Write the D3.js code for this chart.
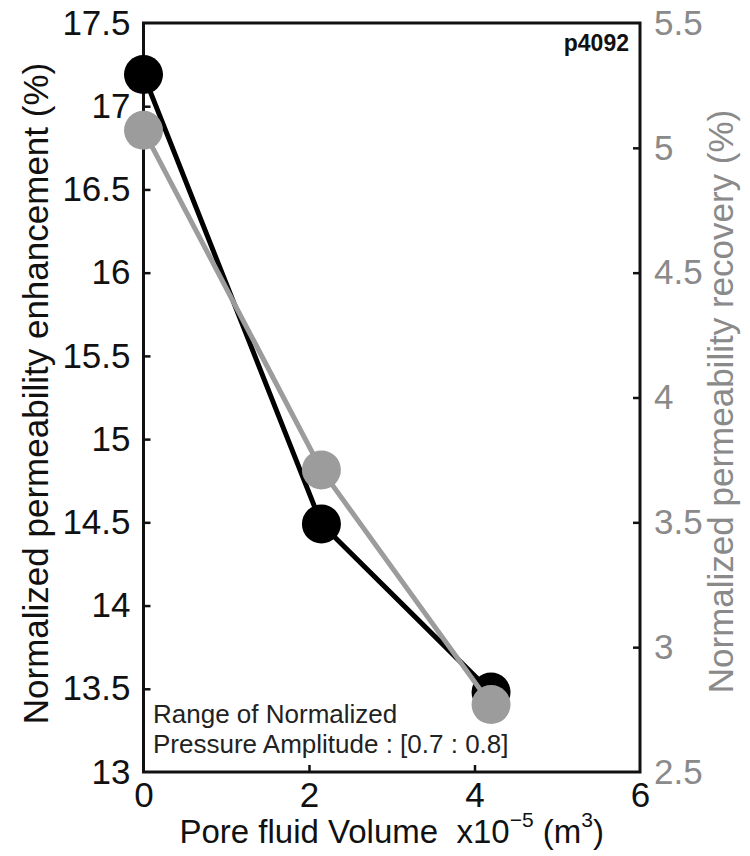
<!DOCTYPE html>
<html>
<head>
<meta charset="utf-8">
<script src="https://cdn.jsdelivr.net/npm/d3@7"></script>
<style>
  html, body { margin: 0; padding: 0; background: #fff; }
  svg { display: block; font-family: "Liberation Sans", Arial, Helvetica, sans-serif; }
</style>
</head>
<body>
<svg id="chart" width="750" height="856"></svg>
<script>
// Pore fluid volume (x10^-5 m^3)
const volume = [0, 2.15, 4.2];
// Normalized permeability enhancement (%) — left axis
const enhancement = [17.19, 14.49, 13.48];
// Normalized permeability recovery (%) — right axis
const recovery = [5.07, 3.71, 2.77];

const xTicks = [0, 2, 4, 6];
const leftTicks = [13, 13.5, 14, 14.5, 15, 15.5, 16, 16.5, 17, 17.5];
const rightTicks = [2.5, 3, 3.5, 4, 4.5, 5, 5.5];

const frame = { left: 143.5, right: 640, top: 23, bottom: 772 };
const black = "#000000";
const grey = "#9c9c9c";
const greyText = "#8a8a8a";

const svg = d3.select("#chart");

const x = d3.scaleLinear().domain([0, 6]).range([frame.left, frame.right]);
const yL = d3.scaleLinear().domain([13, 17.5]).range([frame.bottom, frame.top]);
const yR = d3.scaleLinear().domain([2.5, 5.5]).range([frame.bottom, frame.top]);

const tickFmt = d => String(d);

// Bottom axis (ticks point inward)
const gx = svg.append("g")
  .attr("transform", `translate(0,${frame.bottom})`)
  .call(d3.axisBottom(x).tickValues(xTicks).tickFormat(tickFmt)
    .tickSizeInner(-7).tickSizeOuter(0).tickPadding(10));

// Left axis
const gl = svg.append("g")
  .attr("transform", `translate(${frame.left},0)`)
  .call(d3.axisLeft(yL).tickValues(leftTicks).tickFormat(tickFmt)
    .tickSizeInner(-7).tickSizeOuter(0).tickPadding(13));

// Right axis
const gr = svg.append("g")
  .attr("transform", `translate(${frame.right},0)`)
  .call(d3.axisRight(yR).tickValues(rightTicks).tickFormat(tickFmt)
    .tickSizeInner(-7).tickSizeOuter(0).tickPadding(14));

[gx, gl, gr].forEach(g => {
  g.select(".domain").remove();
  g.selectAll(".tick line").attr("stroke", "#111").attr("stroke-width", 2.5);
  g.selectAll(".tick text").attr("font-size", 35).attr("fill", "#111")
    .attr("font-family", "'Liberation Sans', Arial, sans-serif");
});
// Skip tick marks at the frame corners
gl.selectAll(".tick").filter(d => d === 13 || d === 17.5).select("line").remove();
gr.selectAll(".tick").filter(d => d === 2.5 || d === 5.5).select("line").remove();
gx.selectAll(".tick").filter(d => d === 0 || d === 6).select("line").remove();
gr.selectAll(".tick text").attr("fill", greyText);

// Box
svg.append("rect")
  .attr("x", frame.left).attr("y", frame.top)
  .attr("width", frame.right - frame.left)
  .attr("height", frame.bottom - frame.top)
  .attr("fill", "none").attr("stroke", "#111").attr("stroke-width", 3);

// Enhancement series (black)
const lineL = d3.line().x((d, i) => x(volume[i])).y(d => yL(d));
svg.append("path").datum(enhancement)
  .attr("d", lineL).attr("fill", "none")
  .attr("stroke", black).attr("stroke-width", 5).attr("stroke-linejoin", "round");
svg.append("g").selectAll("circle").data(enhancement).join("circle")
  .attr("cx", (d, i) => x(volume[i])).attr("cy", d => yL(d))
  .attr("r", 19.5).attr("fill", black);

// Recovery series (grey)
const lineR = d3.line().x((d, i) => x(volume[i])).y(d => yR(d));
svg.append("path").datum(recovery)
  .attr("d", lineR).attr("fill", "none")
  .attr("stroke", grey).attr("stroke-width", 5).attr("stroke-linejoin", "round");
svg.append("g").selectAll("circle").data(recovery).join("circle")
  .attr("cx", (d, i) => x(volume[i])).attr("cy", d => yR(d))
  .attr("r", 19.5).attr("fill", grey);

// Axis titles
const midY = (frame.top + frame.bottom) / 2;
svg.append("text")
  .attr("transform", `translate(48,${midY - 4}) rotate(-90)`)
  .attr("text-anchor", "middle").attr("font-size", 35).attr("fill", "#111")
  .text("Normalized permeability enhancement (%)");

svg.append("text")
  .attr("transform", `translate(733,${midY + 4}) rotate(-90)`)
  .attr("text-anchor", "middle").attr("font-size", 35).attr("fill", greyText)
  .text("Normalized permeability recovery (%)");

const xl = svg.append("text")
  .attr("x", (frame.left + frame.right) / 2).attr("y", 843)
  .attr("text-anchor", "middle").attr("font-size", 33).attr("fill", "#111")
  .style("white-space", "pre");
xl.append("tspan").text("Pore fluid Volume\u00a0 x10");
xl.append("tspan").attr("font-size", 21).attr("dy", -16).text("\u22125");
xl.append("tspan").attr("font-size", 33).attr("dy", 16).text(" (m");
xl.append("tspan").attr("font-size", 21).attr("dy", -16).text("3");
xl.append("tspan").attr("font-size", 33).attr("dy", 16).text(")");

// Sample id
svg.append("text")
  .attr("x", 629).attr("y", 51).attr("text-anchor", "end")
  .attr("font-size", 23).attr("font-weight", "bold").attr("fill", "#111")
  .text("p4092");

// Note
const note = svg.append("text").attr("font-size", 26).attr("fill", "#222");
note.append("tspan").attr("x", 153).attr("y", 723).text("Range of Normalized");
note.append("tspan").attr("x", 153).attr("y", 753).text("Pressure Amplitude : [0.7 : 0.8]");
</script>
</body>
</html>
